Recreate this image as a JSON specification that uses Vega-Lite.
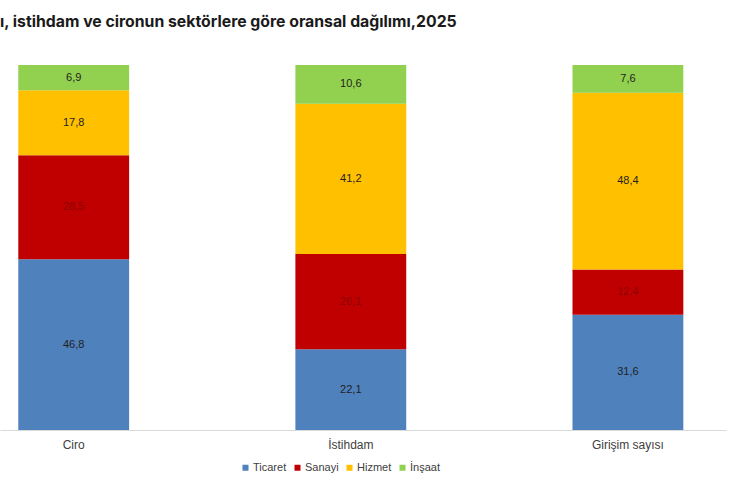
{
  "$schema": "https://vega.github.io/schema/vega-lite/v6.json",
  "width": 726,
  "height": 365,
  "autosize": {"type": "none"},
  "padding": {"left": 0, "top": 65, "right": 4, "bottom": 57},
  "background": "white",
  "title": {
    "text": "ı, istihdam ve cironun sektörlere göre oransal dağılımı,2025",
    "anchor": "start",
    "font": "Inter",
    "fontSize": 15.8,
    "fontWeight": "bold",
    "color": "#1a1a1a",
    "offset": 34
  },
  "config": {
    "view": {"stroke": null},
    "locale": {"number": {"decimal": ",", "thousands": ".", "grouping": [3], "currency": ["", ""]}}
  },
  "data": {
    "values": [
      {"kategori": "Ciro", "sektor": "Ticaret", "sira": 1, "oran": 46.8},
      {"kategori": "Ciro", "sektor": "Sanayi", "sira": 2, "oran": 28.5},
      {"kategori": "Ciro", "sektor": "Hizmet", "sira": 3, "oran": 17.8},
      {"kategori": "Ciro", "sektor": "İnşaat", "sira": 4, "oran": 6.9},
      {"kategori": "İstihdam", "sektor": "Ticaret", "sira": 1, "oran": 22.1},
      {"kategori": "İstihdam", "sektor": "Sanayi", "sira": 2, "oran": 26.1},
      {"kategori": "İstihdam", "sektor": "Hizmet", "sira": 3, "oran": 41.2},
      {"kategori": "İstihdam", "sektor": "İnşaat", "sira": 4, "oran": 10.6},
      {"kategori": "Girişim sayısı", "sektor": "Ticaret", "sira": 1, "oran": 31.6},
      {"kategori": "Girişim sayısı", "sektor": "Sanayi", "sira": 2, "oran": 12.4},
      {"kategori": "Girişim sayısı", "sektor": "Hizmet", "sira": 3, "oran": 48.4},
      {"kategori": "Girişim sayısı", "sektor": "İnşaat", "sira": 4, "oran": 7.6}
    ]
  },
  "transform": [
    {"stack": "oran", "groupby": ["kategori"], "sort": [{"field": "sira", "order": "ascending"}], "as": ["y0", "y1"]},
    {"calculate": "(datum.y0 + datum.y1) / 2", "as": "ymid"}
  ],
  "encoding": {
    "x": {
      "field": "kategori",
      "type": "nominal",
      "sort": ["Ciro", "İstihdam", "Girişim sayısı"],
      "scale": {"paddingInner": 0.6, "paddingOuter": 0.11, "align": 0.3},
      "axis": {
        "title": null,
        "labelAngle": 0,
        "ticks": false,
        "domainColor": "#d9d9d9",
        "labelFont": "Liberation Sans",
        "labelFontSize": 12,
        "labelColor": "#404040",
        "labelPadding": 9
      }
    }
  },
  "layer": [
    {
      "mark": {"type": "bar"},
      "encoding": {
        "y": {"field": "y0", "type": "quantitative", "scale": {"domain": [0, 100]}, "axis": null},
        "y2": {"field": "y1"},
        "color": {
          "field": "sektor",
          "type": "nominal",
          "sort": ["Ticaret", "Sanayi", "Hizmet", "İnşaat"],
          "scale": {
            "domain": ["Ticaret", "Sanayi", "Hizmet", "İnşaat"],
            "range": ["#4f81bd", "#c00000", "#ffc000", "#92d050"]
          },
          "legend": {
            "title": null,
            "orient": "none",
            "legendX": 240,
            "legendY": 397,
            "direction": "horizontal",
            "columns": 4,
            "symbolType": "square",
            "symbolSize": 36,
            "symbolStrokeWidth": 0,
            "labelFont": "Liberation Sans",
            "labelFontSize": 11,
            "labelColor": "#404040",
            "columnPadding": 5,
            "labelOffset": 2
          }
        }
      }
    },
    {
      "mark": {"type": "text", "font": "Liberation Sans", "fontSize": 11, "baseline": "middle"},
      "encoding": {
        "y": {"field": "ymid", "type": "quantitative"},
        "text": {"field": "oran", "type": "quantitative", "format": ".1f"},
        "color": {
          "condition": {"test": "datum.sektor == 'Sanayi'", "value": "#8e0000"},
          "value": "#1f1f1f"
        }
      }
    }
  ]
}
